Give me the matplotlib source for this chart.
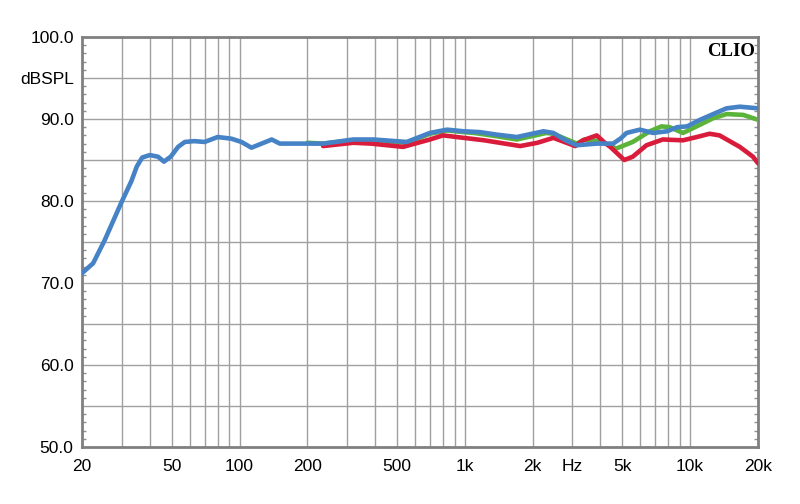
import matplotlib.pyplot as plt
from matplotlib.ticker import FixedLocator, NullFormatter

# frequency response curves (Hz, dB SPL)
blue_f = [20, 22.4, 25.2, 30, 33.1, 35, 37, 40, 43.5, 46.2, 49.5, 53.4, 57.2, 63, 70,
          80, 92, 102, 113, 128, 139, 151, 200, 235, 320, 393, 552, 700, 834, 988,
          1166, 1380, 1700, 2232, 2470, 2800, 3140, 3850, 4550, 4900, 5220, 5980, 6850,
          7900, 8750, 9690, 11060, 12650, 14500, 16600, 20000]
blue_db = [71.2, 72.4, 75.2, 79.9, 82.4, 84.2, 85.3, 85.6, 85.4, 84.8, 85.4, 86.6, 87.2,
           87.3, 87.2, 87.8, 87.6, 87.2, 86.5, 87.1, 87.5, 87.0, 87.0, 87.0, 87.5, 87.5,
           87.2, 88.3, 88.7, 88.5, 88.4, 88.1, 87.8, 88.5, 88.3, 87.4, 86.8, 87.0, 87.0,
           87.6, 88.3, 88.7, 88.3, 88.5, 89.0, 89.1, 89.9, 90.6, 91.3, 91.5, 91.3]

green_f = [200, 235, 320, 393, 552, 700, 834, 988, 1100, 1380, 1700, 2300, 2470, 3140,
           3400, 3980, 4700, 5560, 6620, 7460, 8120, 9290, 11060, 12650, 14500, 17200, 20000]
green_db = [87.1, 87.0, 87.4, 87.4, 87.1, 88.2, 88.6, 88.4, 88.3, 87.9, 87.5, 88.3, 88.2,
            87.0, 87.5, 87.3, 86.4, 87.2, 88.5, 89.1, 89.0, 88.3, 89.3, 90.1, 90.6, 90.5, 89.9]

red_f = [235, 320, 383, 532, 700, 800, 988, 1220, 1760, 2100, 2470, 3090, 3340, 3850,
         4140, 4420, 5100, 5560, 6400, 7560, 9290, 10700, 12200, 13500, 16600, 19000, 20000]
red_db = [86.7, 87.1, 87.0, 86.6, 87.5, 88.0, 87.7, 87.4, 86.7, 87.1, 87.7, 86.7, 87.4,
          88.0, 87.2, 86.6, 85.0, 85.4, 86.8, 87.5, 87.4, 87.8, 88.2, 88.0, 86.6, 85.4, 84.6]

x_ticks = [20, 50, 100, 200, 500, 1000, 2000, 3000, 5000, 10000, 20000]
x_labels = ['20', '50', '100', '200', '500', '1k', '2k', 'Hz', '5k', '10k', '20k']
y_ticks = [50, 60, 70, 80, 90, 95, 100]
y_labels = ['50.0', '60.0', '70.0', '80.0', '90.0', 'dBSPL', '100.0']

plt.rcParams['font.family'] = ['Liberation Sans', 'DejaVu Sans']

fig = plt.figure(figsize=(8, 5.04), dpi=100)
ax = fig.add_axes([0.1025, 0.1131, 0.845, 0.8135])

grid_x = [d * m for d in (10, 100, 1000, 10000) for m in range(1, 10)]
grid_x = [g for g in grid_x if 20 < g < 20000]
for g in grid_x:
    ax.axvline(g, color='#a0a0a0', lw=1.0, zorder=1)
for g in range(55, 100, 5):
    ax.axhline(g, color='#a0a0a0', lw=1.0, zorder=1)

lw = 3.3
ax.plot(green_f, green_db, color='#5cb33a', lw=lw, solid_joinstyle='round',
        solid_capstyle='round', zorder=3)
ax.plot(red_f, red_db, color='#d91c3c', lw=lw, solid_joinstyle='round',
        solid_capstyle='round', zorder=4)
ax.plot(blue_f, blue_db, color='#4682c6', lw=lw, solid_joinstyle='round',
        solid_capstyle='round', zorder=5)

ax.set_xscale('log')
ax.set_xlim(20, 20000)
ax.set_ylim(50, 100)

ax.xaxis.set_major_locator(FixedLocator(x_ticks))
ax.xaxis.set_minor_locator(FixedLocator([]))
ax.xaxis.set_minor_formatter(NullFormatter())
ax.set_xticklabels(x_labels)
ax.tick_params(axis='x', length=0, pad=9, labelsize=12.5)

ax.set_yticks(y_ticks)
ax.set_yticklabels(y_labels)
ax.yaxis.set_minor_locator(FixedLocator([v for v in range(51, 100) if v % 5 != 0]))
ax.tick_params(axis='y', which='major', length=0, pad=6, labelsize=12.5)
ax.tick_params(axis='y', which='minor', direction='in', length=3, width=1,
               color='#909090', left=True, right=True)

for s in ax.spines.values():
    s.set_color('#808080')
    s.set_linewidth(2)

ax.text(0.995, 0.985, 'CLIO', transform=ax.transAxes, ha='right', va='top',
        fontsize=13.5, fontweight='bold', family='Liberation Serif', zorder=6)

fig.savefig('out.png', dpi=100)
